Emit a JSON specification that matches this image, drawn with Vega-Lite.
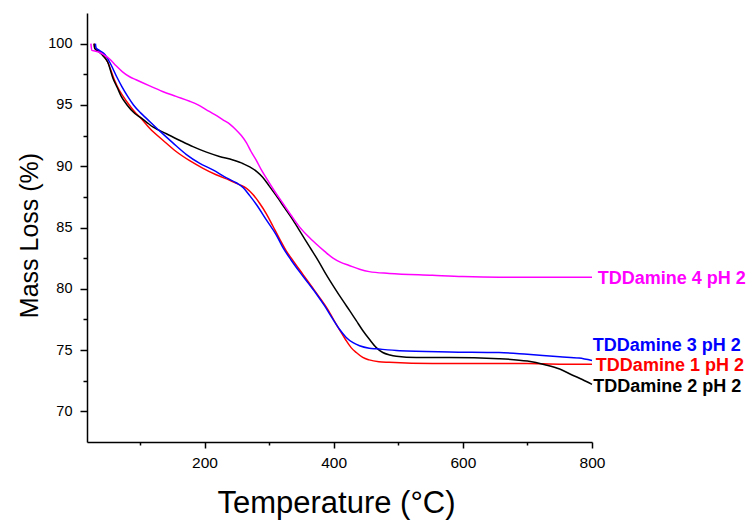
{
  "$schema": "https://vega.github.io/schema/vega-lite/v6.json",
  "width": 505,
  "height": 429,
  "autosize": {"type": "none"},
  "padding": {"left": 87, "top": 13, "right": 164, "bottom": 82},
  "background": "white",
  "config": {
    "view": {"stroke": null},
    "font": "Liberation Sans",
    "axis": {
      "grid": false,
      "domainColor": "black",
      "tickColor": "black",
      "labelColor": "black",
      "titleColor": "black",
      "labelFont": "Liberation Sans",
      "titleFont": "Liberation Sans",
      "titleFontWeight": "normal",
      "domainWidth": 1.5,
      "tickWidth": 1.5
    }
  },
  "datasets": {
    "curves": [
      {"series": "TDDamine 1 pH 2", "T": 29, "v": 100},
      {"series": "TDDamine 1 pH 2", "T": 30, "v": 99.65},
      {"series": "TDDamine 1 pH 2", "T": 36, "v": 99.4},
      {"series": "TDDamine 1 pH 2", "T": 43, "v": 99.05},
      {"series": "TDDamine 1 pH 2", "T": 50, "v": 98.5},
      {"series": "TDDamine 1 pH 2", "T": 60, "v": 97.1},
      {"series": "TDDamine 1 pH 2", "T": 67, "v": 96.3},
      {"series": "TDDamine 1 pH 2", "T": 74, "v": 95.7},
      {"series": "TDDamine 1 pH 2", "T": 84, "v": 94.95},
      {"series": "TDDamine 1 pH 2", "T": 94, "v": 94.3},
      {"series": "TDDamine 1 pH 2", "T": 100, "v": 94.0},
      {"series": "TDDamine 1 pH 2", "T": 115, "v": 93.1},
      {"series": "TDDamine 1 pH 2", "T": 136, "v": 92.1},
      {"series": "TDDamine 1 pH 2", "T": 156, "v": 91.2},
      {"series": "TDDamine 1 pH 2", "T": 177, "v": 90.45},
      {"series": "TDDamine 1 pH 2", "T": 197, "v": 89.85},
      {"series": "TDDamine 1 pH 2", "T": 218, "v": 89.3},
      {"series": "TDDamine 1 pH 2", "T": 239, "v": 88.85},
      {"series": "TDDamine 1 pH 2", "T": 254, "v": 88.5},
      {"series": "TDDamine 1 pH 2", "T": 265, "v": 88.2},
      {"series": "TDDamine 1 pH 2", "T": 275, "v": 87.7},
      {"series": "TDDamine 1 pH 2", "T": 285, "v": 87.0},
      {"series": "TDDamine 1 pH 2", "T": 296, "v": 86.1},
      {"series": "TDDamine 1 pH 2", "T": 306, "v": 85.1},
      {"series": "TDDamine 1 pH 2", "T": 316, "v": 84.1},
      {"series": "TDDamine 1 pH 2", "T": 326.5, "v": 83.1},
      {"series": "TDDamine 1 pH 2", "T": 337, "v": 82.3},
      {"series": "TDDamine 1 pH 2", "T": 352, "v": 81.2},
      {"series": "TDDamine 1 pH 2", "T": 365, "v": 80.25},
      {"series": "TDDamine 1 pH 2", "T": 378, "v": 79.3},
      {"series": "TDDamine 1 pH 2", "T": 391, "v": 78.3},
      {"series": "TDDamine 1 pH 2", "T": 404, "v": 77.1},
      {"series": "TDDamine 1 pH 2", "T": 412, "v": 76.4},
      {"series": "TDDamine 1 pH 2", "T": 419, "v": 75.8},
      {"series": "TDDamine 1 pH 2", "T": 427, "v": 75.2},
      {"series": "TDDamine 1 pH 2", "T": 435, "v": 74.8},
      {"series": "TDDamine 1 pH 2", "T": 445, "v": 74.4},
      {"series": "TDDamine 1 pH 2", "T": 455, "v": 74.2},
      {"series": "TDDamine 1 pH 2", "T": 470, "v": 74.05},
      {"series": "TDDamine 1 pH 2", "T": 486, "v": 74.0},
      {"series": "TDDamine 1 pH 2", "T": 553, "v": 73.9},
      {"series": "TDDamine 1 pH 2", "T": 657, "v": 73.9},
      {"series": "TDDamine 1 pH 2", "T": 700, "v": 73.9},
      {"series": "TDDamine 1 pH 2", "T": 750, "v": 73.85},
      {"series": "TDDamine 1 pH 2", "T": 800, "v": 73.85},

      {"series": "TDDamine 2 pH 2", "T": 29, "v": 100},
      {"series": "TDDamine 2 pH 2", "T": 30, "v": 99.6},
      {"series": "TDDamine 2 pH 2", "T": 36, "v": 99.35},
      {"series": "TDDamine 2 pH 2", "T": 43, "v": 99.0},
      {"series": "TDDamine 2 pH 2", "T": 50, "v": 98.5},
      {"series": "TDDamine 2 pH 2", "T": 58, "v": 97.2},
      {"series": "TDDamine 2 pH 2", "T": 65, "v": 96.4},
      {"series": "TDDamine 2 pH 2", "T": 71, "v": 95.7},
      {"series": "TDDamine 2 pH 2", "T": 80, "v": 95.0},
      {"series": "TDDamine 2 pH 2", "T": 92, "v": 94.3},
      {"series": "TDDamine 2 pH 2", "T": 100, "v": 94.0},
      {"series": "TDDamine 2 pH 2", "T": 110, "v": 93.6},
      {"series": "TDDamine 2 pH 2", "T": 120, "v": 93.2},
      {"series": "TDDamine 2 pH 2", "T": 141, "v": 92.65},
      {"series": "TDDamine 2 pH 2", "T": 162, "v": 92.1},
      {"series": "TDDamine 2 pH 2", "T": 182, "v": 91.6},
      {"series": "TDDamine 2 pH 2", "T": 203, "v": 91.15},
      {"series": "TDDamine 2 pH 2", "T": 223, "v": 90.8},
      {"series": "TDDamine 2 pH 2", "T": 244, "v": 90.5},
      {"series": "TDDamine 2 pH 2", "T": 260, "v": 90.2},
      {"series": "TDDamine 2 pH 2", "T": 270, "v": 89.95},
      {"series": "TDDamine 2 pH 2", "T": 280, "v": 89.6},
      {"series": "TDDamine 2 pH 2", "T": 290, "v": 89.1},
      {"series": "TDDamine 2 pH 2", "T": 300, "v": 88.4},
      {"series": "TDDamine 2 pH 2", "T": 311, "v": 87.6},
      {"series": "TDDamine 2 pH 2", "T": 324, "v": 86.6},
      {"series": "TDDamine 2 pH 2", "T": 337, "v": 85.6},
      {"series": "TDDamine 2 pH 2", "T": 350, "v": 84.5},
      {"series": "TDDamine 2 pH 2", "T": 363, "v": 83.4},
      {"series": "TDDamine 2 pH 2", "T": 376, "v": 82.3},
      {"series": "TDDamine 2 pH 2", "T": 388, "v": 81.2},
      {"series": "TDDamine 2 pH 2", "T": 401, "v": 80.1},
      {"series": "TDDamine 2 pH 2", "T": 414, "v": 79.05},
      {"series": "TDDamine 2 pH 2", "T": 425, "v": 78.2},
      {"series": "TDDamine 2 pH 2", "T": 435, "v": 77.4},
      {"series": "TDDamine 2 pH 2", "T": 445, "v": 76.6},
      {"series": "TDDamine 2 pH 2", "T": 455, "v": 75.9},
      {"series": "TDDamine 2 pH 2", "T": 466, "v": 75.2},
      {"series": "TDDamine 2 pH 2", "T": 476, "v": 74.8},
      {"series": "TDDamine 2 pH 2", "T": 487, "v": 74.6},
      {"series": "TDDamine 2 pH 2", "T": 497, "v": 74.5},
      {"series": "TDDamine 2 pH 2", "T": 528, "v": 74.4},
      {"series": "TDDamine 2 pH 2", "T": 579, "v": 74.4},
      {"series": "TDDamine 2 pH 2", "T": 656, "v": 74.3},
      {"series": "TDDamine 2 pH 2", "T": 700, "v": 74.1},
      {"series": "TDDamine 2 pH 2", "T": 727, "v": 73.8},
      {"series": "TDDamine 2 pH 2", "T": 750, "v": 73.45},
      {"series": "TDDamine 2 pH 2", "T": 770, "v": 72.95},
      {"series": "TDDamine 2 pH 2", "T": 785, "v": 72.6},
      {"series": "TDDamine 2 pH 2", "T": 800, "v": 72.2},

      {"series": "TDDamine 3 pH 2", "T": 31, "v": 100},
      {"series": "TDDamine 3 pH 2", "T": 32, "v": 99.65},
      {"series": "TDDamine 3 pH 2", "T": 37, "v": 99.45},
      {"series": "TDDamine 3 pH 2", "T": 46, "v": 99.1},
      {"series": "TDDamine 3 pH 2", "T": 55, "v": 98.3},
      {"series": "TDDamine 3 pH 2", "T": 64, "v": 97.3},
      {"series": "TDDamine 3 pH 2", "T": 72, "v": 96.5},
      {"series": "TDDamine 3 pH 2", "T": 81, "v": 95.7},
      {"series": "TDDamine 3 pH 2", "T": 90, "v": 95.0},
      {"series": "TDDamine 3 pH 2", "T": 101, "v": 94.35},
      {"series": "TDDamine 3 pH 2", "T": 110, "v": 93.9},
      {"series": "TDDamine 3 pH 2", "T": 130, "v": 92.9},
      {"series": "TDDamine 3 pH 2", "T": 151, "v": 91.9},
      {"series": "TDDamine 3 pH 2", "T": 172, "v": 90.95},
      {"series": "TDDamine 3 pH 2", "T": 192, "v": 90.25},
      {"series": "TDDamine 3 pH 2", "T": 213, "v": 89.7},
      {"series": "TDDamine 3 pH 2", "T": 234, "v": 89.05},
      {"series": "TDDamine 3 pH 2", "T": 249, "v": 88.65},
      {"series": "TDDamine 3 pH 2", "T": 260, "v": 88.25},
      {"series": "TDDamine 3 pH 2", "T": 270, "v": 87.6},
      {"series": "TDDamine 3 pH 2", "T": 280, "v": 86.9},
      {"series": "TDDamine 3 pH 2", "T": 296, "v": 85.6},
      {"series": "TDDamine 3 pH 2", "T": 311, "v": 84.4},
      {"series": "TDDamine 3 pH 2", "T": 321, "v": 83.4},
      {"series": "TDDamine 3 pH 2", "T": 334, "v": 82.35},
      {"series": "TDDamine 3 pH 2", "T": 347, "v": 81.4},
      {"series": "TDDamine 3 pH 2", "T": 360, "v": 80.5},
      {"series": "TDDamine 3 pH 2", "T": 373, "v": 79.6},
      {"series": "TDDamine 3 pH 2", "T": 386, "v": 78.6},
      {"series": "TDDamine 3 pH 2", "T": 399, "v": 77.5},
      {"series": "TDDamine 3 pH 2", "T": 409, "v": 76.7},
      {"series": "TDDamine 3 pH 2", "T": 419, "v": 76.05},
      {"series": "TDDamine 3 pH 2", "T": 430, "v": 75.6},
      {"series": "TDDamine 3 pH 2", "T": 440, "v": 75.35},
      {"series": "TDDamine 3 pH 2", "T": 455, "v": 75.15},
      {"series": "TDDamine 3 pH 2", "T": 466, "v": 75.1},
      {"series": "TDDamine 3 pH 2", "T": 502, "v": 74.95},
      {"series": "TDDamine 3 pH 2", "T": 579, "v": 74.85},
      {"series": "TDDamine 3 pH 2", "T": 656, "v": 74.8},
      {"series": "TDDamine 3 pH 2", "T": 700, "v": 74.65},
      {"series": "TDDamine 3 pH 2", "T": 750, "v": 74.45},
      {"series": "TDDamine 3 pH 2", "T": 780, "v": 74.35},
      {"series": "TDDamine 3 pH 2", "T": 800, "v": 74.15},

      {"series": "TDDamine 4 pH 2", "T": 24, "v": 100},
      {"series": "TDDamine 4 pH 2", "T": 25.5, "v": 99.45},
      {"series": "TDDamine 4 pH 2", "T": 30, "v": 99.4},
      {"series": "TDDamine 4 pH 2", "T": 37, "v": 99.3},
      {"series": "TDDamine 4 pH 2", "T": 45, "v": 99.05},
      {"series": "TDDamine 4 pH 2", "T": 53, "v": 98.75},
      {"series": "TDDamine 4 pH 2", "T": 63, "v": 98.2},
      {"series": "TDDamine 4 pH 2", "T": 73, "v": 97.7},
      {"series": "TDDamine 4 pH 2", "T": 84, "v": 97.3},
      {"series": "TDDamine 4 pH 2", "T": 94, "v": 97.05},
      {"series": "TDDamine 4 pH 2", "T": 115, "v": 96.55},
      {"series": "TDDamine 4 pH 2", "T": 135, "v": 96.1},
      {"series": "TDDamine 4 pH 2", "T": 156, "v": 95.7},
      {"series": "TDDamine 4 pH 2", "T": 177, "v": 95.3},
      {"series": "TDDamine 4 pH 2", "T": 190, "v": 95.0},
      {"series": "TDDamine 4 pH 2", "T": 203, "v": 94.6},
      {"series": "TDDamine 4 pH 2", "T": 216, "v": 94.2},
      {"series": "TDDamine 4 pH 2", "T": 228, "v": 93.8},
      {"series": "TDDamine 4 pH 2", "T": 240, "v": 93.4},
      {"series": "TDDamine 4 pH 2", "T": 249, "v": 92.96},
      {"series": "TDDamine 4 pH 2", "T": 257, "v": 92.5},
      {"series": "TDDamine 4 pH 2", "T": 265, "v": 91.9},
      {"series": "TDDamine 4 pH 2", "T": 272, "v": 91.2},
      {"series": "TDDamine 4 pH 2", "T": 280, "v": 90.5},
      {"series": "TDDamine 4 pH 2", "T": 288, "v": 89.7},
      {"series": "TDDamine 4 pH 2", "T": 296, "v": 89.0},
      {"series": "TDDamine 4 pH 2", "T": 308, "v": 88.0},
      {"series": "TDDamine 4 pH 2", "T": 321, "v": 87.0},
      {"series": "TDDamine 4 pH 2", "T": 334, "v": 86.0},
      {"series": "TDDamine 4 pH 2", "T": 347, "v": 85.05},
      {"series": "TDDamine 4 pH 2", "T": 360, "v": 84.3},
      {"series": "TDDamine 4 pH 2", "T": 373, "v": 83.65},
      {"series": "TDDamine 4 pH 2", "T": 386, "v": 83.05},
      {"series": "TDDamine 4 pH 2", "T": 399, "v": 82.5},
      {"series": "TDDamine 4 pH 2", "T": 411, "v": 82.15},
      {"series": "TDDamine 4 pH 2", "T": 424, "v": 81.9},
      {"series": "TDDamine 4 pH 2", "T": 440, "v": 81.6},
      {"series": "TDDamine 4 pH 2", "T": 455, "v": 81.4},
      {"series": "TDDamine 4 pH 2", "T": 486, "v": 81.25},
      {"series": "TDDamine 4 pH 2", "T": 553, "v": 81.1},
      {"series": "TDDamine 4 pH 2", "T": 600, "v": 81.0},
      {"series": "TDDamine 4 pH 2", "T": 656, "v": 80.95},
      {"series": "TDDamine 4 pH 2", "T": 700, "v": 80.95},
      {"series": "TDDamine 4 pH 2", "T": 750, "v": 80.95},
      {"series": "TDDamine 4 pH 2", "T": 800, "v": 80.95}
    ],
    "labels": [
      {"series": "TDDamine 4 pH 2", "x": 809, "y": 80.36},
      {"series": "TDDamine 3 pH 2", "x": 801, "y": 74.92},
      {"series": "TDDamine 1 pH 2", "x": 806, "y": 73.32},
      {"series": "TDDamine 2 pH 2", "x": 802, "y": 71.6}
    ]
  },
  "layer": [
    {
      "data": {"name": "curves"},
      "mark": {"type": "line", "strokeWidth": 1.5, "interpolate": "monotone"},
      "encoding": {
        "x": {
          "field": "T",
          "type": "quantitative",
          "scale": {"domain": [18, 800], "nice": false, "zero": false},
          "axis": {
            "orient": "bottom",
            "values": [200, 400, 600, 800],
            "tickSize": 6,
            "labelFontSize": 15.5,
            "labelPadding": 7,
            "labelFlush": false,
            "title": "Temperature (°C)",
            "titleFontSize": 31,
            "titleBaseline": "alphabetic",
            "titleX": 249,
            "titleY": 70
          }
        },
        "y": {
          "field": "v",
          "type": "quantitative",
          "scale": {"domain": [67.5, 102.5], "nice": false, "zero": false},
          "axis": {
            "orient": "left",
            "values": [70, 75, 80, 85, 90, 95, 100],
            "tickSize": 7,
            "labelFontSize": 14.5,
            "labelPadding": 8,
            "title": "Mass Loss (%)",
            "titleFontSize": 25,
            "titleAngle": 270,
            "titleBaseline": "alphabetic",
            "titleX": -50,
            "titleY": 222
          }
        },
        "color": {
          "field": "series",
          "type": "nominal",
          "scale": {
            "domain": ["TDDamine 1 pH 2", "TDDamine 2 pH 2", "TDDamine 3 pH 2", "TDDamine 4 pH 2"],
            "range": ["#FF0000", "#000000", "#0000FF", "#FF00FF"]
          },
          "legend": null
        }
      }
    },
    {
      "data": {"name": "labels"},
      "mark": {"type": "text", "align": "left", "baseline": "alphabetic", "fontWeight": "bold", "fontSize": 18, "font": "Liberation Sans"},
      "encoding": {
        "x": {
          "field": "x",
          "type": "quantitative",
          "axis": {"orient": "bottom", "values": [100, 300, 500, 700], "tickSize": 3, "labels": false, "domain": false, "title": null}
        },
        "y": {
          "field": "y",
          "type": "quantitative",
          "axis": {"orient": "left", "values": [72.5, 77.5, 82.5, 87.5, 92.5, 97.5], "tickSize": 4, "labels": false, "domain": false, "title": null}
        },
        "text": {"field": "series"},
        "color": {"field": "series", "type": "nominal", "legend": null}
      }
    }
  ],
  "resolve": {"axis": {"x": "independent", "y": "independent"}}
}
